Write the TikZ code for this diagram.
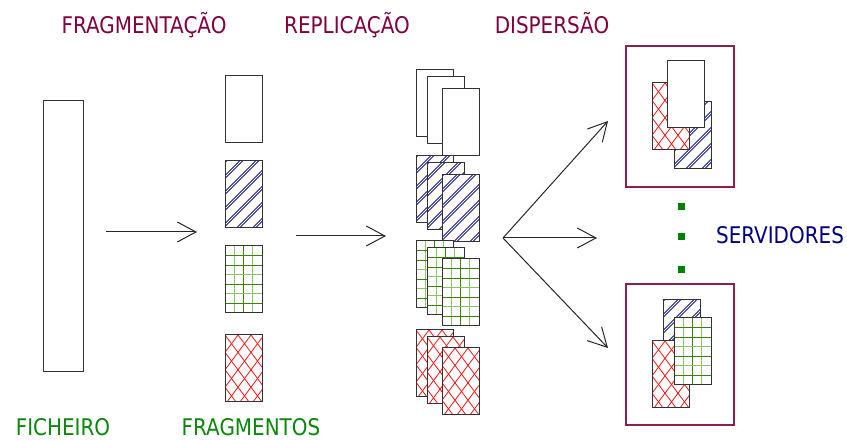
\documentclass[tikz,border=0pt]{standalone}
\usepackage{fontspec}
\newfontfamily\lbl{DejaVu Sans}[FakeStretch=0.87]
\usetikzlibrary{arrows.meta}
\definecolor{titlec}{RGB}{128,0,64}
\definecolor{greent}{RGB}{10,135,10}
\definecolor{navyt}{RGB}{0,0,128}
\definecolor{boxc}{RGB}{140,30,80}
\definecolor{edgec}{RGB}{50,50,50}
\definecolor{hblue}{RGB}{30,30,140}
\definecolor{gdark}{RGB}{60,130,0}
\definecolor{glight}{RGB}{140,195,100}
\definecolor{hred}{RGB}{255,20,20}
\definecolor{dotc}{RGB}{0,128,0}
\tikzset{
  edge/.style={draw=edgec, line width=0.75pt},
  conn/.style={draw=black!85, line width=0.75pt, -{Straight Barb[length=14pt,width=15pt]}},
  lbltxt/.style={font=\lbl\fontsize{17.2pt}{20pt}\selectfont, anchor=base, inner sep=0pt},
  ttl/.style={lbltxt, text=titlec},
  gtxt/.style={lbltxt, text=greent},
  ntxt/.style={lbltxt, text=navyt},
  server/.style={draw=boxc, line width=0.8pt},
  dot/.style={fill=dotc},
  bstripe/.style={draw=hblue, line width=0.75pt, double=white, double distance=0.65pt},
  rline/.style={draw=hred, line width=0.6pt},
  gline/.style={line width=0.75pt},
}
\newcommand\fwhite[2]{\path[fill=white] (#1,#2) rectangle ++(37,67);
  \draw[edge] (#1,#2) rectangle ++(37,67);}
\newcommand\fblue[2]{\path[fill=white] (#1,#2) rectangle ++(37,67);
  \begin{scope}\clip (#1,#2) rectangle ++(37,67);
    \foreach \c in {0,16,...,128} \draw[bstripe] (#1-2,#2+\c+2) -- ++(60,-60);
  \end{scope}
  \draw[edge] (#1,#2) rectangle ++(37,67);}
\newcommand\fgreen[2]{\path[fill=white] (#1,#2) rectangle ++(37,67);
  \foreach \i/\cc in {1/glight,2/gdark,3/glight} \draw[gline, \cc] (#1+9.25*\i,#2) -- ++(0,67);
  \foreach \j/\cc in {1/gdark,2/gdark,3/glight,4/gdark,5/glight,6/gdark} \draw[gline, \cc] (#1,#2+9.57*\j) -- ++(37,0);
  \draw[edge] (#1,#2) rectangle ++(37,67);}
\newcommand\fred[2]{\path[fill=white] (#1,#2) rectangle ++(37,67);
  \begin{scope}\clip (#1,#2) rectangle ++(37,67);
    \foreach \k in {-6,...,10} {\draw[rline] (#1+13*\k,#2) -- ++(65,87);
      \draw[rline] (#1+13*\k,#2) -- ++(-65,87);}
  \end{scope}
  \draw[edge] (#1,#2) rectangle ++(37,67);}
\begin{document}
\begin{tikzpicture}[x=0.75pt,y=-0.75pt]
\useasboundingbox (0,0) rectangle (847,441);
% titles
\node[ttl] (tfrag) at (144,34) {FRAGMENTAÇÃO};
\node[ttl] (trepl) at (347,34) {REPLICAÇÃO};
\node[ttl] (tdisp) at (552,34) {DISPERSÃO};
\node[gtxt] (tfich) at (63,436) {FICHEIRO};
\node[gtxt] (tfrgs) at (251,436) {FRAGMENTOS};
\node[ntxt] (tserv) at (780,244) {SERVIDORES};
% file
\draw[edge] (43,101) rectangle (83,372);
% fragments
\fwhite{225}{76}
\fblue{225}{161}
\fgreen{225}{246}
\fred{225}{335}
% replicas
\fwhite{416}{70}\fwhite{427}{77}\fwhite{442}{89}
\fblue{416}{156}\fblue{427}{163}\fblue{442}{175}
\fgreen{416}{241}\fgreen{427}{248}\fgreen{442}{259}
\fred{416}{330}\fred{427}{337}\fred{442}{348}
% servers
\draw[server] (626,46) rectangle (734,187);
\fblue{674}{102}\fred{652}{83}\fwhite{667}{61}
\draw[server] (626,284) rectangle (734,425);
\fblue{663}{300}\fred{652}{341}\fgreen{674}{318}
% dots
\fill[dot] (678,203) rectangle ++(7,7);
\fill[dot] (678,233) rectangle ++(7,7);
\fill[dot] (678,266) rectangle ++(7,7);
% arrows
\coordinate (a1s) at (106,232); \coordinate (a1e) at (197,232);
\coordinate (a2s) at (296,236); \coordinate (a2e) at (386,236);
\coordinate (f0) at (503,238);
\coordinate (f1) at (608,121); \coordinate (f2) at (597,238); \coordinate (f3) at (608,348);
\draw[conn] (a1s) -- (a1e);
\draw[conn] (a2s) -- (a2e);
\draw[conn] (f0) -- (f1);
\draw[conn] (f0) -- (f2);
\draw[conn] (f0) -- (f3);
\end{tikzpicture}
\end{document}
